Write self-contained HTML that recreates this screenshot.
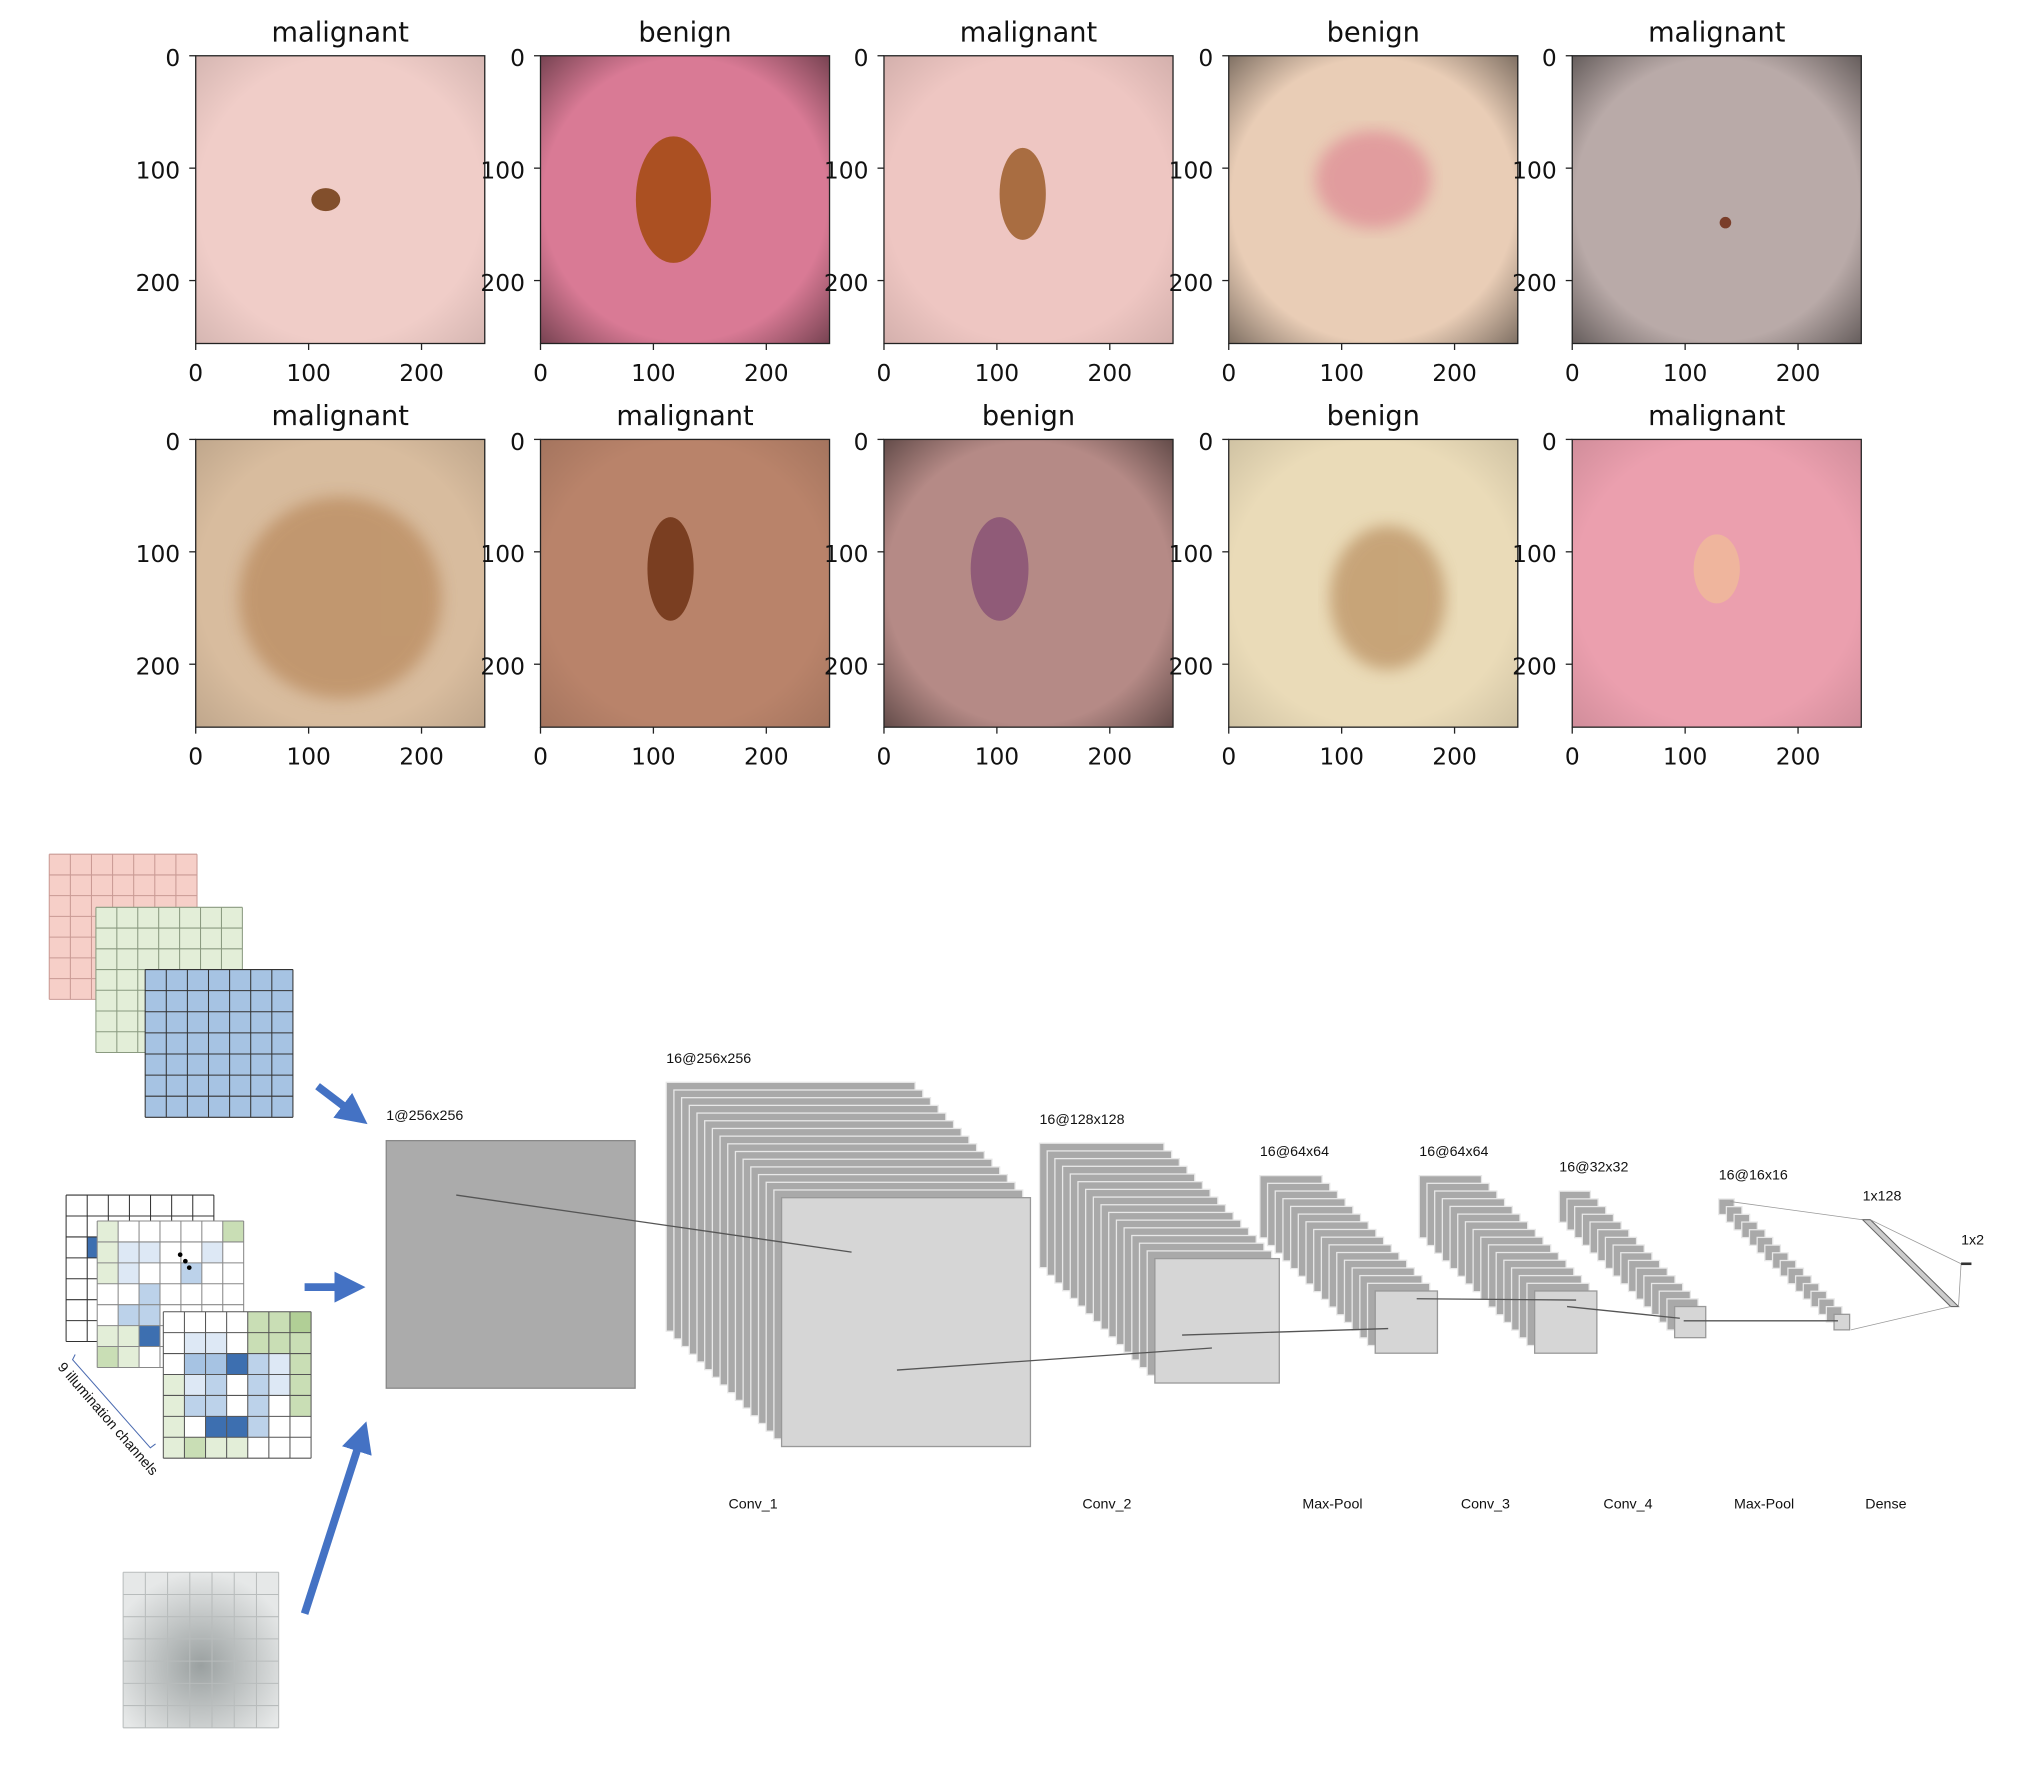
<!DOCTYPE html>
<html><head><meta charset="utf-8">
<style>
html,body{margin:0;padding:0;background:#fff;width:2022px;height:1768px;overflow:hidden}
svg{display:block}
.t{font-family:"DejaVu Sans","Liberation Sans",sans-serif;fill:#111}
.s{font-family:"Liberation Sans",sans-serif;fill:#111;font-size:11px}
</style></head>
<body>
<svg id="fig" width="2022" height="1768" viewBox="0 0 1560 1364" xmlns="http://www.w3.org/2000/svg">
<defs>
<radialGradient id="vig" cx="50%" cy="50%" r="70%"><stop offset="70%" stop-color="#000" stop-opacity="0"/><stop offset="100%" stop-color="#000" stop-opacity="0.55"/></radialGradient>
<radialGradient id="grayg" cx="50%" cy="60%" r="60%"><stop offset="0%" stop-color="#9aa0a0"/><stop offset="100%" stop-color="#e6e8e8"/></radialGradient>
<filter id="blur"><feGaussianBlur stdDeviation="6"/></filter>
<marker id="ah" markerWidth="4" markerHeight="4" refX="2" refY="2" orient="auto"><path d="M0,0 L4,2 L0,4z" fill="#4472c4"/></marker>
</defs>
<g id="panels"></g>
<g id="inputs"></g>
<g id="net"></g>
</svg>
<script>
const titles=["malignant","benign","malignant","benign","malignant","malignant","malignant","benign","benign","malignant"];
const skins=["#f0cdc8","#d97a95","#eec6c2","#e9cdb6","#b9aaa8","#d8bc9e","#b9836a","#b58a86","#eadbb8","#eb9fae"];
const lesions=[["#6e3810",0.45,0.5,0.05,0.04],["#a2490e",0.46,0.5,0.13,0.22],["#9c5d2a",0.48,0.48,0.08,0.16],["#e0949a",0.5,0.43,0.2,0.17],["#6e2b14",0.53,0.58,0.02,0.02],["#b07a48",0.5,0.55,0.35,0.35],["#6e3214",0.45,0.45,0.08,0.18],["#8a5276",0.4,0.45,0.1,0.18],["#b08050",0.55,0.55,0.2,0.25],["#f0b89a",0.5,0.45,0.08,0.12]];
const xticks=[0,100,200], yticks=[0,100,200];
const colX=[151,417,682,948,1213], rowY=[43,339], W=223, H=222;
const NS="http://www.w3.org/2000/svg";
function mk(p,tag,a,txt){const e=document.createElementNS(NS,tag);for(const k in a)e.setAttribute(k,a[k]);if(txt!==undefined)e.textContent=txt;p.appendChild(e);return e;}
const panels=document.getElementById('panels');
titles.forEach((t,i)=>{
 const x0=colX[i%5], y0=rowY[Math.floor(i/5)];
 const sx=v=>x0+v*W/256, sy=v=>y0+v*H/256;
 const g=mk(panels,'g',{});
 
 
 mk(g,'rect',{x:x0,y:y0,width:W,height:H,fill:skins[i]});
 const L=lesions[i];
 const cp=mk(g,'clipPath',{id:'cp'+i});mk(cp,'rect',{x:x0,y:y0,width:W,height:H});
 const big=L[3]>0.06;
 mk(g,'ellipse',{cx:x0+L[1]*W,cy:y0+L[2]*H,rx:L[3]*W,ry:L[4]*H,fill:L[0],opacity:i==5?0.55:(i==8?0.6:0.85),filter:(i==5||i==3||i==8)?'url(#blur)':'', 'clip-path':'url(#cp'+i+')'});
 mk(g,'rect',{x:x0,y:y0,width:W,height:H,fill:'url(#vig)',opacity:(i==1||i==3||i==4||i==7)?0.8:0.2});
 mk(g,'rect',{x:x0,y:y0,width:W,height:H,fill:'none',stroke:'#222','stroke-width':1});
 const tt=mk(g,'text',{x:x0+W/2,y:y0-11,'text-anchor':'middle','font-size':21,class:'t'},t);
 
 
 xticks.forEach(v=>{mk(g,'line',{x1:sx(v),x2:sx(v),y1:y0+H,y2:y0+H+5,stroke:'#222'});
  mk(g,'text',{x:sx(v),y:y0+H+29,'text-anchor':'middle','font-size':18,class:'t'},v);});
 yticks.forEach(v=>{mk(g,'line',{x1:x0-5,x2:x0,y1:sy(v),y2:sy(v),stroke:'#222'});
  mk(g,'text',{x:x0-12,y:sy(v)+8,'text-anchor':'end','font-size':18,class:'t'},v);});
});
const inp=document.getElementById('inputs');
function grid(x,y,w,h,fill,stroke,n,cells){
 const g=mk(inp,'g',{});
 
 
 mk(g,'rect',{x,y,width:w,height:h,fill});
 if(cells)cells.forEach(c=>mk(g,'rect',{x:x+c[0]*w/n,y:y+c[1]*h/n,width:w/n,height:h/n,fill:c[2]}));
 for(let k=0;k<=n;k++){mk(g,'line',{x1:x+k*w/n,x2:x+k*w/n,y1:y,y2:y+h,stroke,'stroke-width':0.8});
  mk(g,'line',{x1:x,x2:x+w,y1:y+k*h/n,y2:y+k*h/n,stroke,'stroke-width':0.8});}
}
grid(38,659,114,112,'#f6cfc8','#c99a94',7);
grid(74,700,113,112,'#e3eed8','#8a9a80',7);
grid(112,748,114,114,'#a6c3e3','#333',7);
grid(51,922,114,113,'#fff','#333',7,[[1,2,'#3d6fb0']]);
grid(75,942,113,113,'#fff','#888',7,[[0,0,'#e3eed8'],[6,0,'#c9deb5'],[1,1,'#dde8f5'],[2,1,'#dde8f5'],[5,1,'#dde8f5'],[0,1,'#e3eed8'],[0,2,'#e3eed8'],[1,2,'#dde8f5'],[4,2,'#bcd2ea'],[2,3,'#bcd2ea'],[1,4,'#bcd2ea'],[2,4,'#bcd2ea'],[0,5,'#e3eed8'],[1,5,'#e3eed8'],[2,5,'#3d6fb0'],[0,6,'#c9deb5'],[1,6,'#e3eed8']]);
grid(126,1012,114,113,'#fff','#555',7,[[4,0,'#c9deb5'],[5,0,'#c9deb5'],[6,0,'#b1cf96'],[1,1,'#dde8f5'],[2,1,'#dde8f5'],[4,1,'#c9deb5'],[5,1,'#c9deb5'],[6,1,'#c9deb5'],[1,2,'#a6c3e3'],[2,2,'#a6c3e3'],[3,2,'#3d6fb0'],[4,2,'#bcd2ea'],[5,2,'#dde8f5'],[6,2,'#c9deb5'],[0,3,'#e3eed8'],[1,3,'#dde8f5'],[2,3,'#bcd2ea'],[4,3,'#bcd2ea'],[5,3,'#dde8f5'],[6,3,'#c9deb5'],[0,4,'#e3eed8'],[1,4,'#bcd2ea'],[2,4,'#bcd2ea'],[4,4,'#bcd2ea'],[6,4,'#c9deb5'],[0,5,'#e3eed8'],[2,5,'#3d6fb0'],[3,5,'#3d6fb0'],[4,5,'#bcd2ea'],[0,6,'#e3eed8'],[1,6,'#c9deb5'],[2,6,'#e3eed8'],[3,6,'#e3eed8']]);
grid(95,1213,120,120,'url(#grayg)','#b8bcbc',7);
[[139,968],[143,973],[146,978]].forEach(p=>mk(inp,'circle',{cx:p[0],cy:p[1],r:1.8,fill:'#000'}));
mk(inp,'path',{d:'M58,1045 L56,1049 L116,1117 L120,1114',fill:'none',stroke:'#4a6ab0','stroke-width':0.8});
mk(inp,'text',{x:0,y:0,'font-size':8,class:'s',transform:'translate(44,1055) rotate(49)'},'9 illumination channels');
[[245,838,274,860],[235,993,270,993],[235,1245,279,1108]].forEach(a=>{
 const l=mk(inp,'line',{x1:a[0],y1:a[1],x2:a[2],y2:a[3],stroke:'#4472c4','stroke-width':6,'marker-end':'url(#ah)'});
 
 
});
const net=document.getElementById('net');
const layerNames=["Conv_1","Conv_2","Max-Pool","Conv_3","Conv_4","Max-Pool","Dense"];
const layerDims=["16@256x256","16@128x128","16@64x64","16@64x64","16@32x32","16@16x16","1x128"];
const layerX=[514,802,972,1095,1203,1326], layerY=[835,882,907,907,919,925], layerSize=[192,96,48,48,24,12];
const nameX=[581,854,1028,1146,1256,1361,1455];
mk(net,'rect',{x:298,y:880,width:192,height:191,fill:'#ababab',stroke:'#888'});
mk(net,'text',{x:298,y:864,class:'s'},'1@256x256');
layerX.forEach((x,i)=>{
 const g=mk(net,'g',{});
 
 
 const s=layerSize[i], n=16, step=89/(n-1);
 for(let k=0;k<n;k++){
  const last=k==n-1;
  mk(g,'rect',{x:x+k*step,y:layerY[i]+k*step,width:s,height:s,fill:last?'#d6d6d6':'#a9a9a9',stroke:last?'#999':'#e8e8e8','stroke-width':1});
 }
 mk(g,'text',{x:x,y:layerY[i]-15,class:'s'},layerDims[i]);
});
const lines=[[352,922,657,966],[692,1057,935,1040],[912,1030,1071,1025],[1093,1002,1216,1003],[1209,1008,1296,1017],[1299,1019,1418,1019]];
lines.forEach(l=>mk(net,'line',{x1:l[0],y1:l[1],x2:l[2],y2:l[3],stroke:'#555','stroke-width':1}));
mk(net,'polygon',{points:'1437,941 1443,941 1511,1008 1505,1008',fill:'#ccc',stroke:'#666','stroke-width':0.8});
mk(net,'polyline',{points:'1335,927 1437,941',fill:'none',stroke:'#999','stroke-width':0.6});
mk(net,'polyline',{points:'1428,1026 1505,1008',fill:'none',stroke:'#999','stroke-width':0.6});
mk(net,'polyline',{points:'1443,941 1513,975 1511,1008',fill:'none',stroke:'#999','stroke-width':0.6});
mk(net,'line',{x1:1513,y1:975,x2:1521,y2:975,stroke:'#333','stroke-width':2});
mk(net,'text',{x:1437,y:926,class:'s'},layerDims[6]);
mk(net,'text',{x:1513,y:960,class:'s'},'1x2');
layerNames.forEach((n,i)=>{const t=mk(net,'text',{x:nameX[i],y:1164,'text-anchor':'middle',class:'s'},n);
 
 });
</script>
</body></html>
